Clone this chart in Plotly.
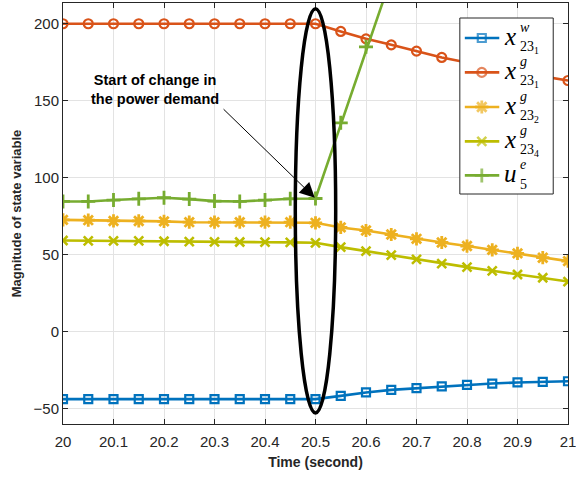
import plotly.graph_objects as go

# ---------------- data ----------------
time = [20.0, 20.05, 20.1, 20.15, 20.2, 20.25, 20.3, 20.35, 20.4, 20.45, 20.5,
        20.55, 20.6, 20.65, 20.7, 20.75, 20.8, 20.85, 20.9, 20.95, 21.0]

x23_1_w = [-44, -44, -44, -44, -44, -44, -44, -44, -44, -44, -44,
           -41.9, -39.7, -38.0, -36.9, -35.8, -34.7, -33.9, -33.2, -32.8, -32.4]
x23_1_g = [200, 200, 200, 200, 200, 200, 200, 200, 200, 200, 200,
           195.0, 190.2, 186.3, 182.2, 178.1, 174.8, 171.5, 168.6, 165.8, 163.1]
x23_2_g = [72.5, 72.3, 71.8, 71.8, 71.5, 71.0, 71.0, 71.0, 71.0, 71.0, 70.6,
           67.6, 65.6, 63.0, 60.2, 57.8, 55.5, 53.0, 50.7, 47.9, 45.7]
x23_4_g = [59.1, 58.9, 58.9, 58.9, 58.6, 58.4, 58.2, 58.1, 58.0, 57.9, 57.6,
           54.8, 52.2, 49.6, 46.8, 44.1, 41.8, 39.4, 37.0, 34.9, 32.4]
u5_e = [84.5, 84.5, 85.4, 86.2, 86.9, 86.0, 84.7, 84.5, 85.4, 86.2, 86.4,
        135.6, 185.0, 234.0, 281.0, 326.0, 368.0, 406.0, 440.0, 470.0, 496.0]

x_ticks = [20.0, 20.1, 20.2, 20.3, 20.4, 20.5, 20.6, 20.7, 20.8, 20.9, 21.0]
x_ticklabels = ["20", "20.1", "20.2", "20.3", "20.4", "20.5", "20.6", "20.7", "20.8", "20.9", "21"]
y_ticks = [-50, 0, 50, 100, 150, 200]

series = [
    ("x231w", x23_1_w, "#0072BD", "square-open", 8, 2.2),
    ("x231g", x23_1_g, "#D95319", "circle-open", 9, 2.2),
    ("x232g", x23_2_g, "#EDB120", "asterisk-open", 11, 2.8),
    ("x234g", x23_4_g, "#BDBD00", "x-thin-open", 9, 2.6),
    ("u5e", u5_e, "#77AC30", "cross-thin-open", 10, 2.8),
]
legend_math = [("x", "w", "23<sub>1</sub>"),
               ("x", "g", "23<sub>1</sub>"),
               ("x", "g", "23<sub>2</sub>"),
               ("x", "g", "23<sub>4</sub>"),
               ("u", "e", "5")]

# plot area in pixels
L, R, T, B = 62.7, 568.3, 3.3, 424.3
W, H = 576, 477

fig = go.Figure()

for name, vals, col, sym, msz, mlw in series:
    fig.add_trace(go.Scatter(
        x=time, y=vals, mode="lines+markers", name=name, showlegend=False,
        line=dict(color=col, width=2.6),
        marker=dict(symbol=sym, size=msz, color=col, line=dict(color=col, width=mlw)),
        xaxis="x", yaxis="y"))

# ---------- custom legend on a pixel overlay axis ----------
bx0, bx1, by0, by1 = 460, 553.5, 18.3, 194.3
fig.add_trace(go.Scatter(
    x=[bx0, bx1, bx1, bx0, bx0], y=[by0, by0, by1, by1, by0], mode="lines",
    fill="toself", fillcolor="white", line=dict(color="#262626", width=1),
    xaxis="x2", yaxis="y2", showlegend=False, hoverinfo="skip"))
entry_y = [38.3, 72.7, 107.3, 141.7, 175.7]
for (name, vals, col, sym, msz, mlw), yc in zip(series, entry_y):
    fig.add_trace(go.Scatter(
        x=[465, 482, 499.5], y=[yc, yc, yc], mode="lines+markers",
        line=dict(color=col, width=2.6),
        marker=dict(symbol=sym, size=[0, msz, 0], color=col, line=dict(color=col, width=mlw)),
        xaxis="x2", yaxis="y2", showlegend=False, hoverinfo="skip"))

annotations = []
mfont = "Liberation Serif"
for (base, sup, sub), yc in zip(legend_math, entry_y):
    annotations.append(dict(x=502.5, y=yc - 2, xref="x2", yref="y2", text="<i>%s</i>" % base,
                            showarrow=False, xanchor="left", yanchor="middle",
                            font=dict(family=mfont, size=25, color="black")))
    annotations.append(dict(x=518, y=yc - 11, xref="x2", yref="y2", text="<i>%s</i>" % sup,
                            showarrow=False, xanchor="left", yanchor="middle",
                            font=dict(family=mfont, size=14, color="black")))
    annotations.append(dict(x=518.5, y=yc + 9, xref="x2", yref="y2", text=sub,
                            showarrow=False, xanchor="left", yanchor="middle",
                            font=dict(family=mfont, size=14, color="black")))

# text of the callout
annotations.append(dict(x=155, y=90, xref="x2", yref="y2",
                        text="<b>Start of change in<br>the power demand</b>",
                        showarrow=False, xanchor="center", yanchor="middle", align="center",
                        font=dict(family="Liberation Sans", size=14.5, color="black")))
# arrow pointing at the start of the change
annotations.append(dict(x=time[10], y=u5_e[10], xref="x", yref="y",
                        ax=20.315, ay=145.4, axref="x", ayref="y", text="",
                        showarrow=True, arrowhead=2, arrowsize=3, arrowwidth=1,
                        arrowcolor="black", standoff=1))

fig.add_shape(type="circle", xref="x", yref="y", x0=20.46, x1=20.54, y0=-53, y1=209.7,
              line=dict(color="black", width=3.5), layer="above")

axis_common = dict(showline=True, linecolor="#262626", linewidth=1, mirror="ticks",
                   ticks="inside", ticklen=5, tickcolor="#262626", automargin=False,
                   showgrid=True, gridcolor="#E3E3E3", gridwidth=1, zeroline=False,
                   ticklabeloverflow="allow",
                   tickfont=dict(family="Liberation Sans", size=15, color="#262626"))

fig.update_layout(
    width=W, height=H, plot_bgcolor="white", paper_bgcolor="white",
    margin=dict(l=L, r=W - R, t=T, b=H - B, pad=0, autoexpand=False),
    showlegend=False,
    xaxis=dict(range=[20, 21], tickvals=x_ticks, ticktext=x_ticklabels,
               ticklabelstandoff=4,
               title=dict(text="<b>Time (second)</b>", standoff=8,
                          font=dict(family="Liberation Sans", size=14, color="#262626")),
               **axis_common),
    yaxis=dict(range=[-60.2, 213.5], tickvals=y_ticks,
               title=dict(text="<b>Magnitude of state variable</b>", standoff=8,
                          font=dict(family="Liberation Sans", size=13, color="#262626")),
               **axis_common),
    xaxis2=dict(range=[L, R], overlaying="x", visible=False, fixedrange=True),
    yaxis2=dict(range=[B, T], overlaying="y", visible=False, fixedrange=True),
    annotations=annotations,
)

fig.write_html("out.html", config={"displayModeBar": False},
               post_script="document.body.style.margin='0';document.body.style.padding='0';")
